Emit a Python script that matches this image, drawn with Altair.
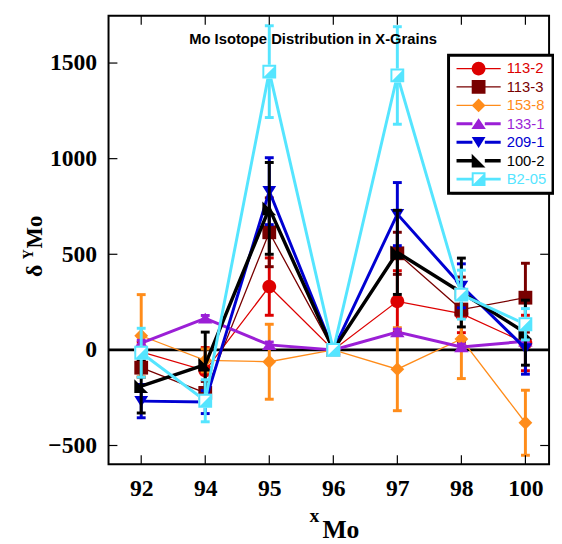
import altair as alt
import pandas as pd

categories = ["92", "94", "95", "96", "97", "98", "100"]
series_names = ["113-2", "113-3", "153-8", "133-1", "209-1", "100-2", "B2-05"]
series_colors = ["#dd0000", "#780000", "#ff8c1a", "#9b1fd6", "#0000d2", "#000000", "#55e5ff"]
line_widths = [1.3, 1.3, 1.3, 3, 3, 3.5, 3]

v_113_2 = [-10, -108, 331, 0, 254, 190, 36]
e_113_2 = [50, 120, 150, 0, 160, 100, 145]
v_113_3 = [-93, -225, 615, 0, 505, 211, 273]
e_113_3 = [50, 60, 180, 0, 110, 170, 180]
v_153_8 = [74, -55, -62, 0, -101, 57, -381]
e_153_8 = [215, 60, 196, 0, 217, 207, 170]
v_133_1 = [35, 165, 26, 0, 93, 15, 45]
e_133_1 = [15, 15, 15, 0, 15, 15, 15]
v_209_1 = [-268, -273, 830, 0, 710, 335, 8]
e_209_1 = [87, 60, 175, 0, 165, 115, 135]
v_100_2 = [-190, -77, 740, 0, 510, 300, 90]
e_100_2 = [140, 170, 240, 0, 220, 180, 170]
v_b2_05 = [-15, -266, 1455, 0, 1435, 289, 134]
e_b2_05 = [128, 110, 240, 0, 255, 128, 82]

y_ticks = [-500, 0, 500, 1000, 1500]
title_text = "Mo Isotope Distribution in X-Grains"

values = [v_113_2, v_113_3, v_153_8, v_133_1, v_209_1, v_100_2, v_b2_05]
errors = [e_113_2, e_113_3, e_153_8, e_133_1, e_209_1, e_100_2, e_b2_05]

rows = []
for s, vs, es in zip(series_names, values, errors):
    for c, v, e in zip(categories, vs, es):
        rows.append({"series": s, "cat": c, "v": v, "e": e, "lo": v - e, "hi": v + e})
df = pd.DataFrame(rows)

# marker shapes (unit coords)
marker_paths = [
    "M -1 0 A 1 1 0 1 1 1 0 A 1 1 0 1 1 -1 0 Z",
    "M -1 -1 L 1 -1 L 1 1 L -1 1 Z",
    "M 0 -1 L 1 0 L 0 1 L -1 0 Z",
    "M 0 -0.8 L 1.05 0.75 L -1.05 0.75 Z",
    "M -1 -0.75 L 1 -0.75 L 0 0.85 Z",
    "M -1 -1 L 1 1 L -1 1 Z",
    "M -1 -1 L 1 -1 L 1 1 L -1 1 Z M -0.72 -0.72 L -0.72 0.72 L 0.72 0.72 L 0.72 -0.72 Z "
    "M 0.72 -0.72 L 0.72 0.72 L -0.72 0.72 Z",
]


def seg(t):
    return (f"M -3.2 {-t} L -0.9 {-t} L -0.9 {t} L -3.2 {t} Z "
            f"M 0.9 {-t} L 3.2 {-t} L 3.2 {t} L 0.9 {t} Z ")


legend_paths = []
for p, w in zip(marker_paths, line_widths):
    legend_paths.append(seg(round(w / 14, 3)) + p)

AX_FONT = dict(labelFont="Liberation Serif", labelFontWeight="bold", labelFontSize=24,
               labelColor="black", domain=False, grid=False, ticks=False)
x_scale = alt.Scale(type="point", domain=categories, padding=0.44, align=0.58)
y_scale = alt.Scale(domain=[-598, 1747], nice=False, zero=False)
x_axis = alt.Axis(title=None, labelAngle=0, labelPadding=13, **AX_FONT)
y_axis = alt.Axis(title=None, values=y_ticks, labelPadding=12, format="d", **AX_FONT)


def X(field="cat"):
    return alt.X(f"{field}:N", scale=x_scale, axis=x_axis, sort=categories)


def Y(field="v"):
    return alt.Y(f"{field}:Q", scale=y_scale, axis=y_axis)


layers = []
zero = alt.Chart(pd.DataFrame({"z": [0]})).mark_rule(color="black", strokeWidth=3).encode(
    y=Y("z"), x=alt.value(0), x2=alt.value(447))
layers.append(zero)

for s, col, lw, mp in zip(series_names, series_colors, line_widths, marker_paths):
    b = alt.Chart(df).transform_filter(alt.datum.series == s)
    layers.append(b.mark_line(color=col, strokeWidth=lw).encode(x=X(), y=Y()))
    be = b.transform_filter(alt.datum.e > 0)
    layers.append(be.mark_rule(color=col, strokeWidth=3).encode(x=X(), y=Y("lo"), y2="hi:Q"))
    layers.append(be.mark_tick(color=col, size=9, thickness=3, opacity=1).encode(x=X(), y=Y("lo")))
    layers.append(be.mark_tick(color=col, size=9, thickness=3, opacity=1).encode(x=X(), y=Y("hi")))
    if s == "B2-05":
        layers.append(b.mark_point(shape="square", filled=True, color="white", size=196, opacity=1)
                      .encode(x=X(), y=Y()))
    layers.append(b.mark_point(shape=mp, filled=True, color=col, size=196, opacity=1, strokeWidth=0)
                  .encode(x=X(), y=Y()))

# inward ticks
tick_df = pd.DataFrame({"t": y_ticks})
cat_df = pd.DataFrame({"cat": categories})
layers.append(alt.Chart(tick_df).mark_rule(color="black", strokeWidth=1.2).encode(
    y=Y("t"), x=alt.value(0), x2=alt.value(9)))
layers.append(alt.Chart(tick_df).mark_rule(color="black", strokeWidth=1.2).encode(
    y=Y("t"), x=alt.value(438), x2=alt.value(447)))
layers.append(alt.Chart(cat_df).mark_rule(color="black", strokeWidth=1.2).encode(
    x=X(), y=alt.value(0), y2=alt.value(9)))
layers.append(alt.Chart(cat_df).mark_rule(color="black", strokeWidth=1.2).encode(
    x=X(), y=alt.value(446), y2=alt.value(455)))

# titles
layers.append(alt.Chart(pd.DataFrame({"t": [title_text]})).mark_text(
    font="Liberation Sans", fontWeight="bold", fontSize=15, align="center", baseline="alphabetic",
    color="black").encode(x=alt.value(207.5), y=alt.value(28.7), text="t:N"))
layers.append(alt.Chart(pd.DataFrame({"t": ["x"]})).mark_text(
    font="Liberation Serif", fontWeight="bold", fontSize=20, align="left", baseline="alphabetic",
    color="black").encode(x=alt.value(204), y=alt.value(513.7), text="t:N"))
layers.append(alt.Chart(pd.DataFrame({"t": ["Mo"]})).mark_text(
    font="Liberation Serif", fontWeight="bold", fontSize=26, align="left", baseline="alphabetic",
    color="black").encode(x=alt.value(217), y=alt.value(529.7), text="t:N"))
layers.append(alt.Chart(pd.DataFrame({"t": ["δ"]})).mark_text(
    font="Liberation Serif", fontWeight="bold", fontSize=24, align="left", baseline="alphabetic",
    angle=270, color="black").encode(x=alt.value(-67), y=alt.value(265), text="t:N"))
layers.append(alt.Chart(pd.DataFrame({"t": ["Y"]})).mark_text(
    font="Liberation Serif", fontWeight="bold", fontSize=14, align="left", baseline="alphabetic",
    angle=270, color="black").encode(x=alt.value(-77), y=alt.value(247), text="t:N"))
layers.append(alt.Chart(pd.DataFrame({"t": ["Mo"]})).mark_text(
    font="Liberation Serif", fontWeight="bold", fontSize=23, align="left", baseline="alphabetic",
    angle=270, color="black").encode(x=alt.value(-67), y=alt.value(236), text="t:N"))

# legend shadow
LX, LY, LW, LH = 345, 40, 108, 138
layers.append(alt.Chart(pd.DataFrame({"a": [0]})).mark_rect(color="black").encode(
    x=alt.value(LX + 3), x2=alt.value(LX + LW + 3), y=alt.value(LY + 3), y2=alt.value(LY + LH + 3)))

# legend
color_expr = ""
for s, c in zip(series_names, series_colors):
    color_expr += f"datum.value == '{s}' ? '{c}' : "
color_expr += "'black'"

leg = alt.Legend(title=None, orient="none", legendX=LX, legendY=LY, symbolSize=196,
                 symbolStrokeWidth=0, symbolOpacity=1, labelFont="Liberation Sans",
                 labelFontSize=15, labelColor=alt.ExprRef(expr=color_expr),
                 strokeColor="black", fillColor="white", padding=6, rowPadding=2.7,
                 symbolOffset=17, labelOffset=21, cornerRadius=0)
layers.append(alt.Chart(df).transform_filter("false").mark_point(filled=True, opacity=1).encode(
    color=alt.Color("series:N", scale=alt.Scale(domain=series_names, range=series_colors), legend=leg),
    shape=alt.Shape("series:N", scale=alt.Scale(domain=series_names, range=legend_paths), legend=leg),
))

chart = alt.layer(*layers).properties(
    width=447, height=455, autosize="none",
    padding={"left": 102, "top": 4, "right": 5, "bottom": 77},
).configure_view(stroke="black", strokeWidth=2).configure_legend(strokeWidth=3)

chart.save("out.html", embed_options={"renderer": "svg", "actions": False})
